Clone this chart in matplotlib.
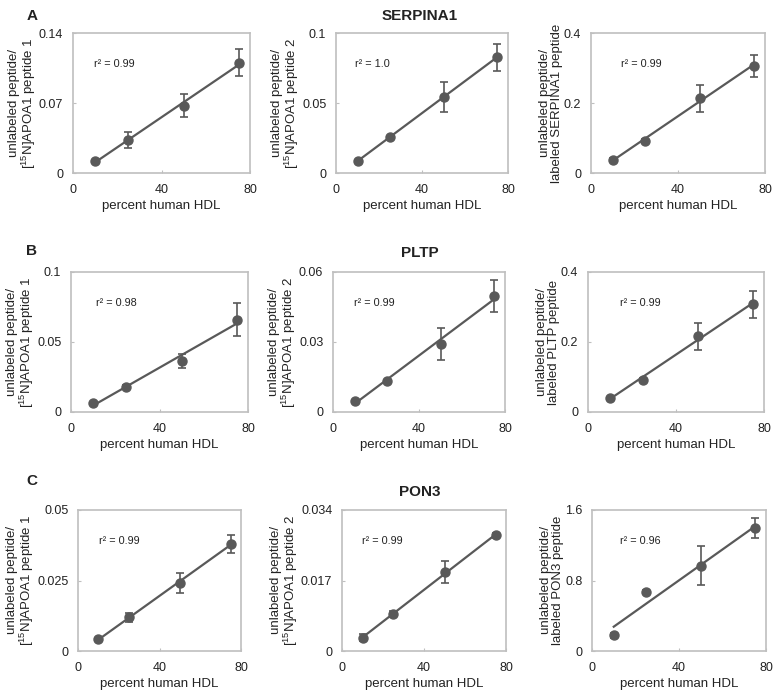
import numpy as np
import matplotlib
matplotlib.use("Agg")
import matplotlib.pyplot as plt

plt.rcParams['font.family'] = ['Liberation Sans', 'DejaVu Sans']
plt.rcParams['mathtext.fontset'] = 'custom'
plt.rcParams['mathtext.rm'] = 'Liberation Sans'
plt.rcParams['mathtext.it'] = 'Liberation Sans:italic'

# ---- data ----
hdl_percent = [10, 25, 50, 75]

serpina1_pep1 = [0.012, 0.0332, 0.0673, 0.1105]
serpina1_pep1_err = [0.001, 0.0083, 0.0114, 0.0134]
serpina1_pep2 = [0.0083, 0.0257, 0.0545, 0.0826]
serpina1_pep2_err = [0.0005, 0.001, 0.0108, 0.0094]
serpina1_lab = [0.038, 0.0914, 0.2133, 0.3067]
serpina1_lab_err = [0.004, 0.006, 0.039, 0.031]

pltp_pep1 = [0.0067, 0.0176, 0.0364, 0.066]
pltp_pep1_err = [0.0005, 0.0015, 0.0048, 0.0119]
pltp_pep2 = [0.0046, 0.0133, 0.0293, 0.0496]
pltp_pep2_err = [0.0004, 0.0006, 0.0068, 0.0069]
pltp_lab = [0.04, 0.0924, 0.216, 0.3076]
pltp_lab_err = [0.004, 0.006, 0.038, 0.0376]

pon3_pep1 = [0.0042, 0.0119, 0.024, 0.0381]
pon3_pep1_err = [0.0004, 0.0017, 0.0036, 0.0032]
pon3_pep2 = [0.0032, 0.0089, 0.019, 0.0279]
pon3_pep2_err = [0.0008, 0.0007, 0.0026, 0.0006]
pon3_lab = [0.178, 0.671, 0.967, 1.391]
pon3_lab_err = [0.03, 0.02, 0.222, 0.114]

r2_labels = ["0.99", "1.0", "0.99", "0.98", "0.99", "0.99", "0.99", "0.99", "0.96"]
y_maxes = [0.14, 0.1, 0.4, 0.1, 0.06, 0.4, 0.05, 0.034, 1.6]
y_ticks = [["0", "0.07", "0.14"], ["0", "0.05", "0.1"], ["0", "0.2", "0.4"],
           ["0", "0.05", "0.1"], ["0", "0.03", "0.06"], ["0", "0.2", "0.4"],
           ["0", "0.025", "0.05"], ["0", "0.017", "0.034"], ["0", "0.8", "1.6"]]
x_ticks = [0, 40, 80]
ylabel_pep1 = "unlabeled peptide/\n[$^{15}$N]APOA1 peptide 1"
ylabel_pep2 = "unlabeled peptide/\n[$^{15}$N]APOA1 peptide 2"
ylabels = [ylabel_pep1, ylabel_pep2, "unlabeled peptide/\nlabeled SERPINA1 peptide",
           ylabel_pep1, ylabel_pep2, "unlabeled peptide/\nlabeled PLTP peptide",
           ylabel_pep1, ylabel_pep2, "unlabeled peptide/\nlabeled PON3 peptide"]
protein_titles = ["SERPINA1", "PLTP", "PON3"]
panel_letters = ["A", "B", "C"]

series = [(serpina1_pep1, serpina1_pep1_err), (serpina1_pep2, serpina1_pep2_err),
          (serpina1_lab, serpina1_lab_err), (pltp_pep1, pltp_pep1_err),
          (pltp_pep2, pltp_pep2_err), (pltp_lab, pltp_lab_err),
          (pon3_pep1, pon3_pep1_err), (pon3_pep2, pon3_pep2_err),
          (pon3_lab, pon3_lab_err)]

# ---- layout (pixels: left, right, top, bottom) ----
W, H = 779, 696
boxes = [(73, 250, 33, 173), (336, 508, 33, 173), (591, 765, 33, 173),
         (71, 248, 272, 412), (333, 505, 272, 412), (588, 764, 272, 412),
         (78, 241, 510, 651), (342, 506, 510, 651), (592, 766, 510, 651)]
r2_pos = [0.12, 0.11, 0.17, 0.14, 0.12, 0.18, 0.13, 0.12, 0.16]

fig = plt.figure(figsize=(W / 100, H / 100), dpi=100)
mark_col = "#595959"
frame_col = "#bfbfbf"
text_col = "#222222"

for i, (l, r, t, b) in enumerate(boxes):
    ax = fig.add_axes([l / W, 1 - b / H, (r - l) / W, (b - t) / H])
    y, e = series[i]
    x = np.array(hdl_percent, dtype=float)
    slope, icpt = np.polyfit(x, y, 1)
    xf = np.array([x.min(), x.max()])
    ax.plot(xf, slope * xf + icpt, color=mark_col, lw=1.6, zorder=2)
    ax.errorbar(x, y, yerr=e, fmt='o', color=mark_col, ms=6.5, ecolor=mark_col,
                elinewidth=1.2, capsize=3, capthick=1.2, zorder=3)
    ymax = y_maxes[i]
    ax.set_xlim(0, 80)
    ax.set_ylim(0, ymax)
    ax.set_xticks(x_ticks)
    ax.set_xticklabels([str(v) for v in x_ticks])
    ax.set_yticks([0, ymax / 2, ymax])
    ax.set_yticklabels(y_ticks[i])
    for s in ax.spines.values():
        s.set_color(frame_col)
        s.set_linewidth(1.2)
    ax.tick_params(axis='both', direction='in', length=2, width=0.8, color=frame_col,
                   labelsize=9, labelcolor=text_col)
    ax.tick_params(axis='x', pad=8)
    ax.tick_params(axis='y', pad=7)
    ax.set_xlabel("percent human HDL", fontsize=9.5, color=text_col, labelpad=3)
    ax.set_ylabel(ylabels[i], fontsize=9.5, color=text_col, labelpad=1, linespacing=0.95)
    ax.text(r2_pos[i], 0.78, "r² = " + r2_labels[i], transform=ax.transAxes,
            fontsize=7.8, color=text_col, va='center', ha='left')

letter_y = [16, 251, 481]
title_y = [16, 253, 492]
for k in range(3):
    fig.text(32 / W, 1 - letter_y[k] / H, panel_letters[k], fontsize=11, fontweight='bold',
             ha='center', va='center', color=text_col)
    fig.text(420 / W, 1 - title_y[k] / H, protein_titles[k], fontsize=11, fontweight='bold',
             ha='center', va='center', color=text_col)

fig.savefig("out.png", dpi=100)
